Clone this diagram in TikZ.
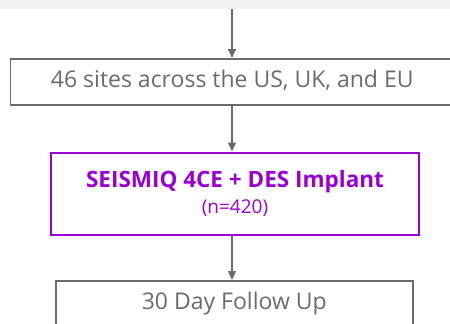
\documentclass[tikz,border=0pt]{standalone}
\usepackage{fontspec}
\setmainfont{Open Sans}
\usetikzlibrary{arrows.meta}

\definecolor{flowgray}{HTML}{6B6B6B}
\definecolor{armpurple}{HTML}{9A00D4}
\definecolor{bandgray}{HTML}{F2F2F2}

\tikzset{
	stagebox/.style={draw=flowgray, line width=1.5pt, text=flowgray, font=\fontsize{23}{26}\selectfont, inner sep=0pt, anchor=north west},
	armbox/.style={draw=armpurple, line width=2pt, text=armpurple, align=center, inner sep=0pt, anchor=north west},
	flow/.style={flowgray, line width=1.2pt, -{Triangle[width=8pt,length=9pt]}}
}

\begin{document}
\begin{tikzpicture}[x=1pt, y=-1pt]
	\useasboundingbox (0,0) rectangle (450,324);
	\clip (0,0) rectangle (450,324);
	\fill[bandgray] (0,0) rectangle (450,9);
	\coordinate (top) at (232,9);

	\node[stagebox, minimum width=444pt, minimum height=46pt] (sites) at (9.5,58) {\raisebox{5pt}{46 sites across the US, UK, and EU}};
	\node[armbox, minimum width=368pt, minimum height=82pt] (implant) at (50,151.5)
		{{\fontsize{22.5}{26}\selectfont\bfseries SEISMIQ 4CE + DES Implant}\\[5pt]{\fontsize{19}{22}\selectfont (n=420)}};
	\node[stagebox, minimum width=357pt, minimum height=46pt] (followup) at (55,280) {30 Day Follow Up};

	% connectors
	\draw[flow] (top) -- (sites.north -| top);
	\draw[flow] (sites.south -| top) -- (implant.north -| top);
	\draw[flow] (implant.south -| top) -- (followup.north -| top);
\end{tikzpicture}
\end{document}
